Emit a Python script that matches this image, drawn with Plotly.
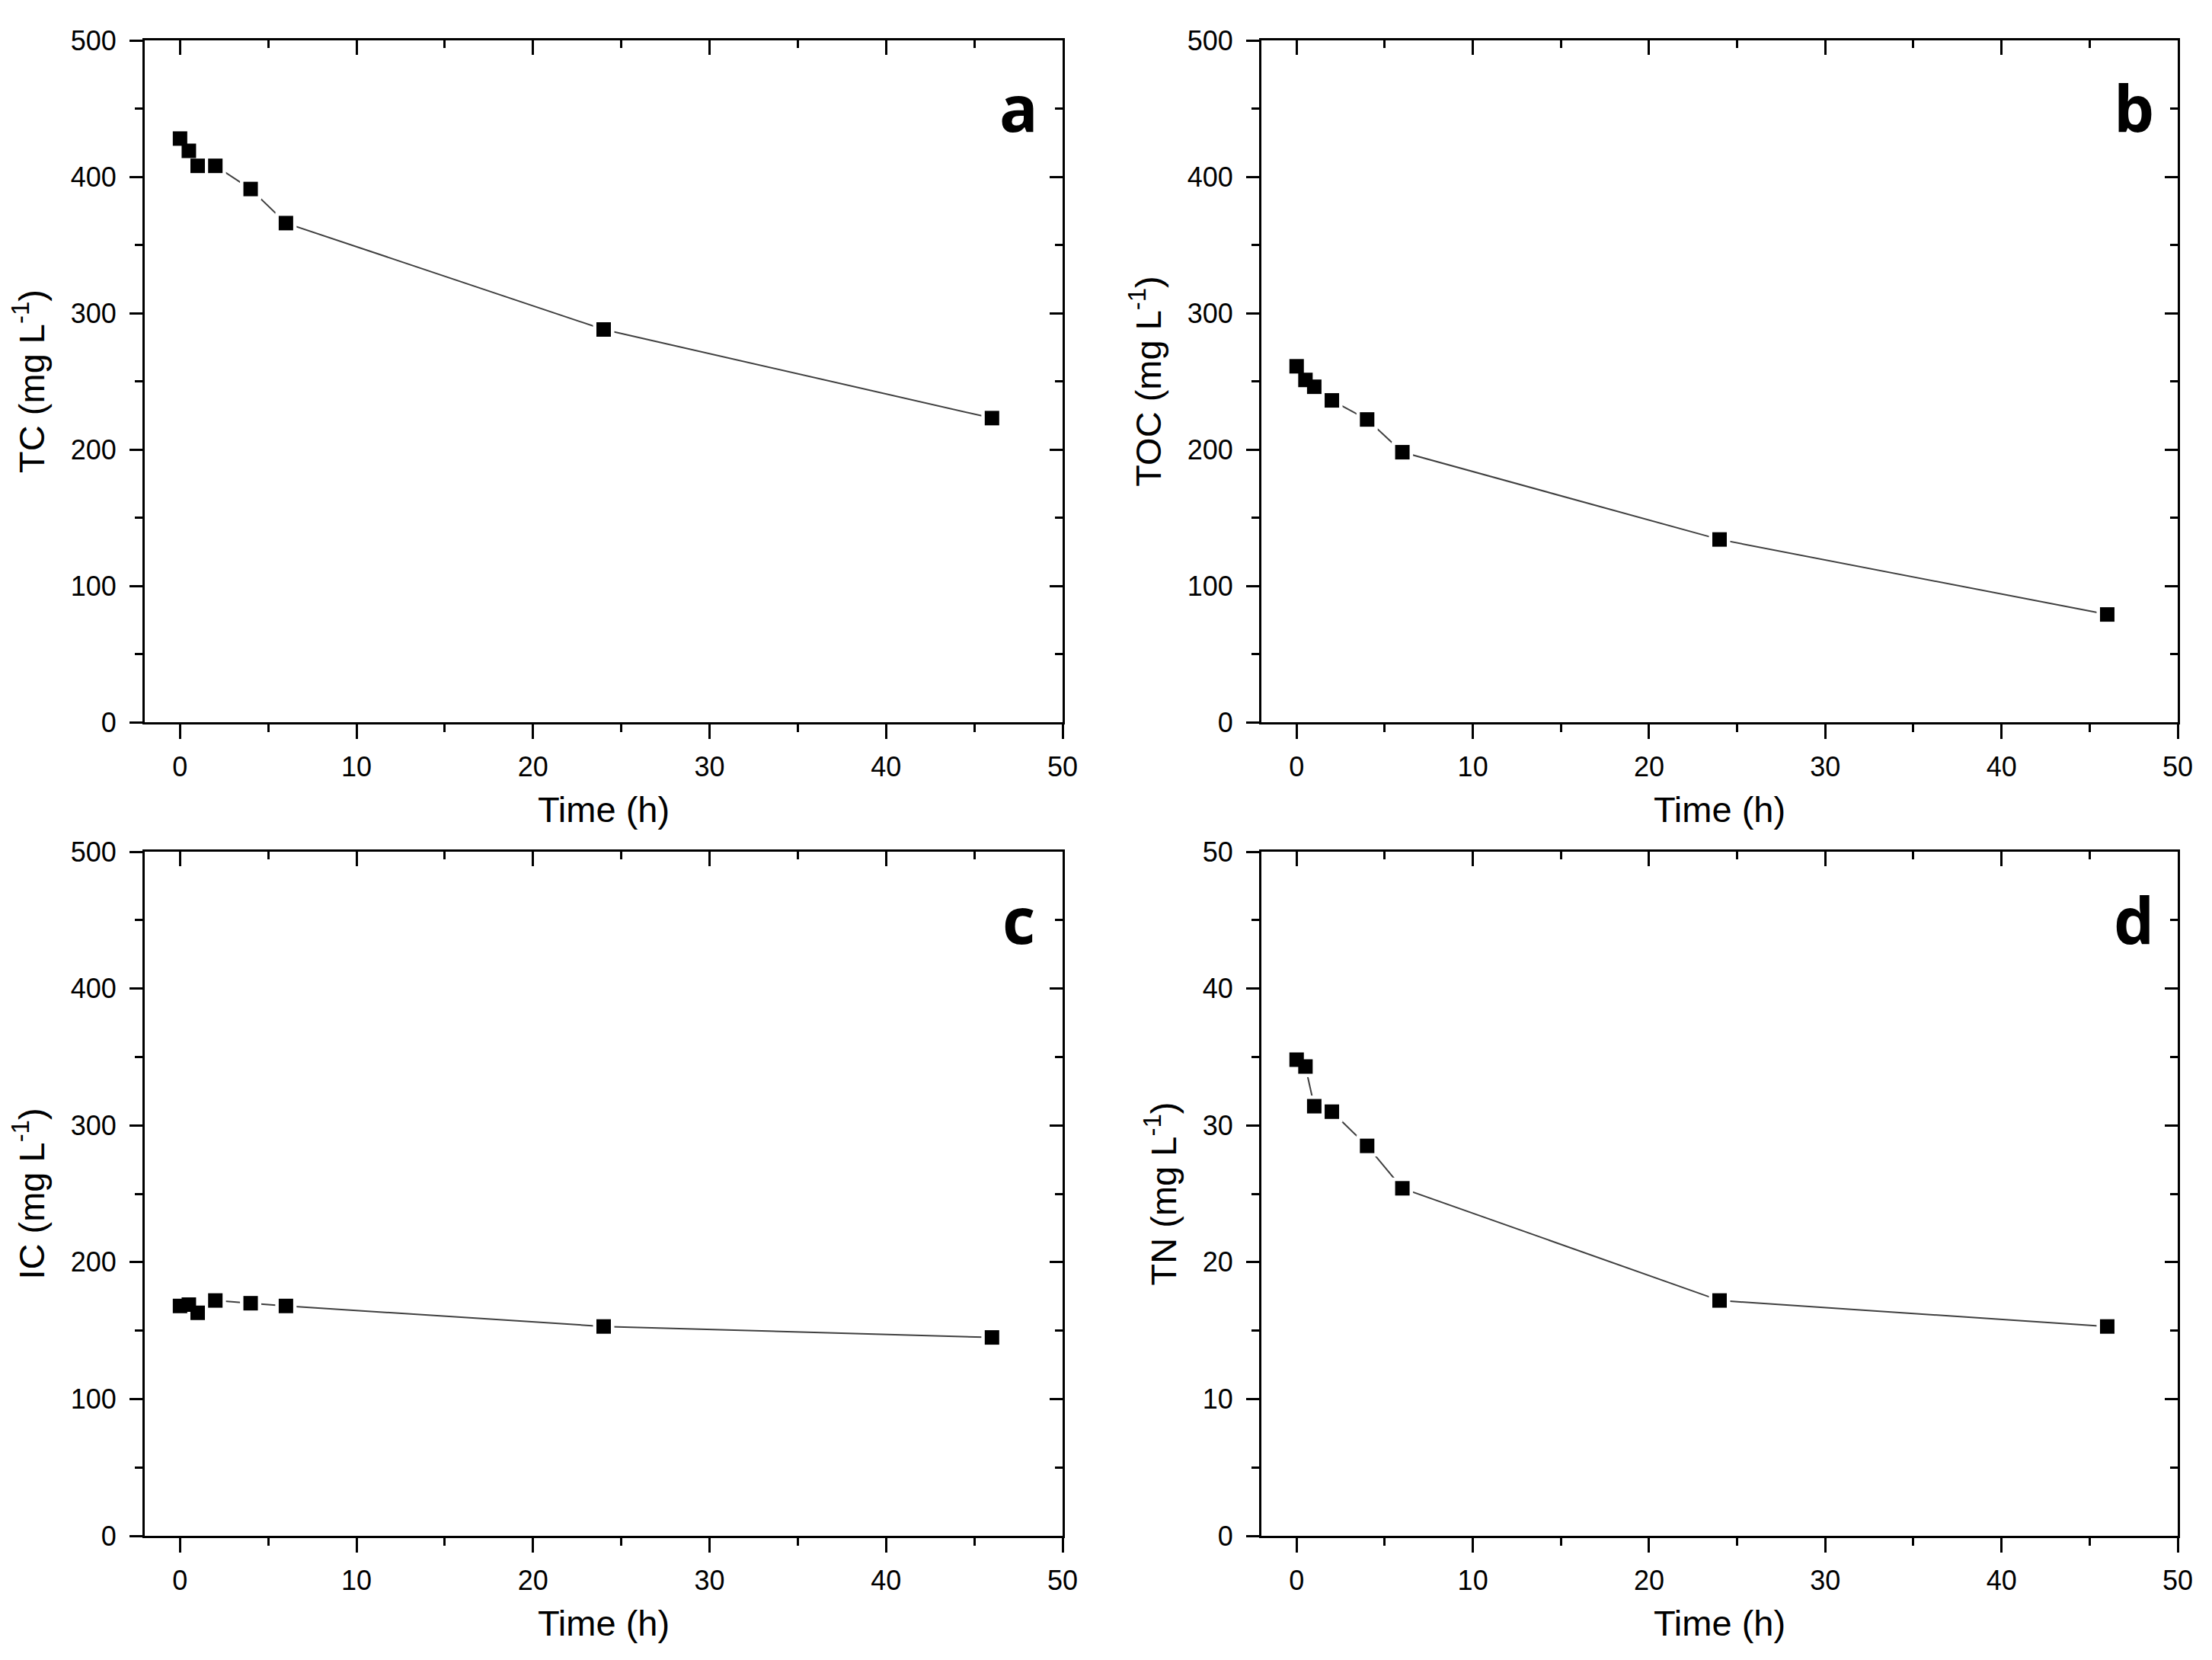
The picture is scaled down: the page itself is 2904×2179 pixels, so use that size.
import plotly.graph_objects as go

# ---- data ----
time_h = [0, 0.5, 1, 2, 4, 6, 24, 46]
tc_vals = [428, 419, 408, 408, 391, 366, 288, 223]
toc_vals = [261, 251, 246, 236, 222, 198, 134, 79]
ic_vals = [168, 169, 163, 172, 170, 168, 153, 145]
tn_vals = [34.8, 34.3, 31.4, 31.0, 28.5, 25.4, 17.2, 15.3]

panel_letters = ["a", "b", "c", "d"]
y_titles = ["TC (mg L<sup>-1</sup>)", "TOC (mg L<sup>-1</sup>)",
            "IC (mg L<sup>-1</sup>)", "TN (mg L<sup>-1</sup>)"]
y_ranges = [[0, 500], [0, 500], [0, 500], [0, 50]]
y_dticks = [100, 100, 100, 10]
x_range = [-2, 50]
x_title = "Time (h)"

series = [tc_vals, toc_vals, ic_vals, tn_vals]

# page body has an 8px default margin; size the figure to fit the window
OFF = 8
W, H = 2904 - 2 * OFF, 2179 - 2 * OFF


def xd(px):
    return (px - OFF) / W


def yd(px):
    return 1 - (px - OFF) / H


x_doms = [[xd(190), xd(1395)], [xd(1656), xd(2859)]]
y_doms = [[yd(948), yd(53)], [yd(2016), yd(1118)]]

TICK_FONT = dict(family="Arial, Liberation Sans, sans-serif", size=36, color="black")
TITLE_FONT = dict(family="Arial, Liberation Sans, sans-serif", size=47, color="black")

fig = go.Figure()
layout = dict(
    width=W, height=H,
    margin=dict(l=0, r=0, t=0, b=0),
    paper_bgcolor="white", plot_bgcolor="white",
    showlegend=False,
    annotations=[],
)

for i in range(4):
    n = i + 1
    no = i + 5
    col = i % 2
    row = i // 2
    xdom = x_doms[col]
    ydom = y_doms[row]
    xs = "" if n == 1 else str(n)
    xid, yid = f"x{xs}", f"y{xs}"
    vals = series[i]

    # line with gaps near markers
    fig.add_trace(go.Scatter(x=time_h, y=vals, mode="lines",
                             line=dict(color="#404040", width=2),
                             xaxis=xid, yaxis=yid, hoverinfo="skip"))
    fig.add_trace(go.Scatter(x=time_h, y=vals, mode="markers",
                             marker=dict(symbol="square", size=28, color="white",
                                         line=dict(width=0)),
                             xaxis=xid, yaxis=yid, hoverinfo="skip"))
    fig.add_trace(go.Scatter(x=time_h, y=vals, mode="markers",
                             marker=dict(symbol="square", size=19, color="black",
                                         line=dict(width=0)),
                             xaxis=xid, yaxis=yid))
    # invisible traces for mirrored inner-tick axes
    fig.add_trace(go.Scatter(x=[None], y=[None], mode="markers",
                             xaxis=f"x{no}", yaxis=yid, hoverinfo="skip"))
    fig.add_trace(go.Scatter(x=[None], y=[None], mode="markers",
                             xaxis=xid, yaxis=f"y{no}", hoverinfo="skip"))

    ydt = y_dticks[i]
    layout[f"xaxis{xs}"] = dict(
        domain=xdom, anchor=yid, range=x_range, dtick=10, tick0=0,
        ticks="outside", ticklen=19, tickwidth=3, tickcolor="black",
        minor=dict(ticks="outside", dtick=5, tick0=0, ticklen=10, tickwidth=3,
                   tickcolor="black", showgrid=False),
        showline=True, linewidth=3, linecolor="black",
        showgrid=False, zeroline=False,
        tickfont=TICK_FONT, ticklabelstandoff=6,
        title=dict(text=x_title, font=TITLE_FONT, standoff=20),
        automargin=False,
    )
    layout[f"yaxis{xs}"] = dict(
        domain=ydom, anchor=xid, range=y_ranges[i], dtick=ydt, tick0=0,
        ticks="outside", ticklen=17, tickwidth=3, tickcolor="black",
        minor=dict(ticks="outside", dtick=ydt / 2, tick0=0, ticklen=10, tickwidth=3,
                   tickcolor="black", showgrid=False),
        showline=True, linewidth=3, linecolor="black",
        showgrid=False, zeroline=False,
        tickfont=TICK_FONT, ticklabelstandoff=10,
        title=dict(text=y_titles[i], font=TITLE_FONT, standoff=20),
        automargin=False,
    )
    layout[f"xaxis{no}"] = dict(
        overlaying=xid, side="top", anchor=yid, range=x_range, dtick=10, tick0=0,
        ticks="inside", ticklen=19, tickwidth=3, tickcolor="black",
        minor=dict(ticks="inside", dtick=5, tick0=0, ticklen=10, tickwidth=3,
                   tickcolor="black", showgrid=False),
        showline=True, linewidth=3, linecolor="black",
        showgrid=False, zeroline=False, showticklabels=False,
    )
    layout[f"yaxis{no}"] = dict(
        overlaying=yid, side="right", anchor=xid, range=y_ranges[i], dtick=ydt, tick0=0,
        ticks="inside", ticklen=17, tickwidth=3, tickcolor="black",
        minor=dict(ticks="inside", dtick=ydt / 2, tick0=0, ticklen=10, tickwidth=3,
                   tickcolor="black", showgrid=False),
        showline=True, linewidth=3, linecolor="black",
        showgrid=False, zeroline=False, showticklabels=False,
    )
    layout["annotations"].append(dict(
        text=panel_letters[i], xref=f"{xid} domain", yref=f"{yid} domain",
        x=0.952, y=0.902, xanchor="center", yanchor="middle", showarrow=False,
        font=dict(family="Open Sans, sans-serif", size=84, color="black", weight="bold"),
    ))

fig.update_layout(**layout)
fig.write_html("out.html")
